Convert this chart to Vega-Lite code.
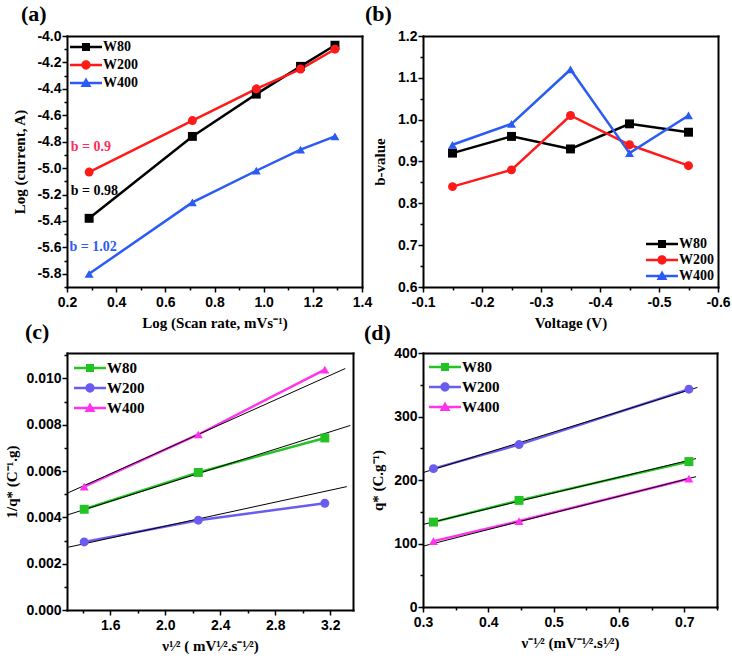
{
  "$schema": "https://vega.github.io/schema/vega-lite/v6.json",
  "padding": {"left": 4, "top": 3, "right": 2, "bottom": 2},
  "background": "white",
  "config": {
    "view": {"stroke": null},
    "axis": {"labelFont": "Liberation Sans", "labelFontWeight": "bold", "labelFontSize": 14, "labelColor": "black",
      "titleFont": "Liberation Serif", "titleFontWeight": "bold", "titleFontSize": 15, "titleColor": "black",
      "domain": false, "domainColor": "black", "domainWidth": 2, "domainCap": "square",
      "grid": false, "tickColor": "black", "tickWidth": 1.5, "tickSize": 5, "labelOverlap": false, "labelFlush": false},
    "axisX": {"titlePadding": 6, "labelPadding": 3},
    "axisY": {"titlePadding": 8, "labelPadding": 1},
    "legend": {"padding": 0, "rowPadding": 3, "symbolSize": 256, "symbolStrokeWidth": 0, "symbolOpacity": 1,
      "labelFont": "Liberation Serif", "labelFontWeight": "bold", "labelFontSize": 14, "labelColor": "black", "labelOffset": 17},
    "title": {"font": "Liberation Serif", "fontSize": 22, "fontWeight": "bold", "anchor": "start", "frame": "group", "baseline": "alphabetic", "color": "black"}
  },
  "datasets": {
    "a": [
      {"s": "W80", "x": 0.29, "y": -5.38}, {"s": "W80", "x": 0.71, "y": -4.76}, {"s": "W80", "x": 0.97, "y": -4.44}, {"s": "W80", "x": 1.15, "y": -4.23}, {"s": "W80", "x": 1.29, "y": -4.07},
      {"s": "W200", "x": 0.29, "y": -5.03}, {"s": "W200", "x": 0.71, "y": -4.64}, {"s": "W200", "x": 0.97, "y": -4.40}, {"s": "W200", "x": 1.15, "y": -4.25}, {"s": "W200", "x": 1.29, "y": -4.10},
      {"s": "W400", "x": 0.29, "y": -5.80}, {"s": "W400", "x": 0.71, "y": -5.26}, {"s": "W400", "x": 0.97, "y": -5.02}, {"s": "W400", "x": 1.15, "y": -4.86}, {"s": "W400", "x": 1.29, "y": -4.76}
    ],
    "anno": [
      {"s": "W200", "x": 0.215, "y": -4.84, "t": "b = 0.9"},
      {"s": "W80", "x": 0.215, "y": -5.17, "t": "b = 0.98"},
      {"s": "W400", "x": 0.21, "y": -5.60, "t": "b = 1.02"}
    ],
    "b": [
      {"s": "W80", "x": -0.15, "y": 0.92}, {"s": "W80", "x": -0.25, "y": 0.96}, {"s": "W80", "x": -0.35, "y": 0.93}, {"s": "W80", "x": -0.45, "y": 0.99}, {"s": "W80", "x": -0.55, "y": 0.97},
      {"s": "W200", "x": -0.15, "y": 0.84}, {"s": "W200", "x": -0.25, "y": 0.88}, {"s": "W200", "x": -0.35, "y": 1.01}, {"s": "W200", "x": -0.45, "y": 0.94}, {"s": "W200", "x": -0.55, "y": 0.89},
      {"s": "W400", "x": -0.15, "y": 0.94}, {"s": "W400", "x": -0.25, "y": 0.99}, {"s": "W400", "x": -0.35, "y": 1.12}, {"s": "W400", "x": -0.45, "y": 0.92}, {"s": "W400", "x": -0.55, "y": 1.01}
    ],
    "c": [
      {"s": "W80", "x": 1.41, "y": 0.00435}, {"s": "W80", "x": 2.24, "y": 0.00594}, {"s": "W80", "x": 3.16, "y": 0.00743},
      {"s": "W200", "x": 1.41, "y": 0.00294}, {"s": "W200", "x": 2.24, "y": 0.00388}, {"s": "W200", "x": 3.16, "y": 0.00461},
      {"s": "W400", "x": 1.41, "y": 0.00533}, {"s": "W400", "x": 2.24, "y": 0.00758}, {"s": "W400", "x": 3.16, "y": 0.01038}
    ],
    "cfit": [
      {"f": "W80", "x": 1.285, "y": 0.0041}, {"f": "W80", "x": 3.345, "y": 0.00797},
      {"f": "W200", "x": 1.285, "y": 0.0027}, {"f": "W200", "x": 3.32, "y": 0.00533},
      {"f": "W400", "x": 1.285, "y": 0.00504}, {"f": "W400", "x": 3.309, "y": 0.01043}
    ],
    "d": [
      {"s": "W80", "x": 0.316, "y": 133.7}, {"s": "W80", "x": 0.447, "y": 167.9}, {"s": "W80", "x": 0.707, "y": 229},
      {"s": "W200", "x": 0.316, "y": 217.9}, {"s": "W200", "x": 0.447, "y": 255.8}, {"s": "W200", "x": 0.707, "y": 343},
      {"s": "W400", "x": 0.316, "y": 103.7}, {"s": "W400", "x": 0.447, "y": 135.3}, {"s": "W400", "x": 0.707, "y": 202}
    ],
    "dfit": [
      {"f": "W80", "x": 0.3, "y": 130}, {"f": "W80", "x": 0.718, "y": 233.7},
      {"f": "W200", "x": 0.3, "y": 211.6}, {"f": "W200", "x": 0.72, "y": 345.8},
      {"f": "W400", "x": 0.3, "y": 95.8}, {"f": "W400", "x": 0.718, "y": 205.3}
    ]
  },
  "resolve": {"scale": {"color": "independent", "stroke": "independent", "fill": "independent", "shape": "independent", "x": "independent", "y": "independent"}, "legend": {"color": "independent"}},
  "columns": 2,
  "spacing": {"row": 66, "column": 61},
  "bounds": "flush",
  "align": "each",
  "concat": [
    {
      "width": 295, "height": 251,
      "title": {"text": "(a)", "dx": -46, "offset": 3},
      "resolve": {"axis": {"x": "independent", "y": "independent"}},
      "layer": [
        {"data": {"name": "a"}, "mark": {"type": "line", "strokeWidth": 2.5},
          "encoding": {
            "x": {"field": "x", "type": "quantitative", "scale": {"domain": [0.2, 1.4], "nice": false, "zero": false},
              "axis": {"title": "Log (Scan rate, mVs⁻¹)", "domain": true, "values": [0.2, 0.4, 0.6, 0.8, 1.0, 1.2, 1.4], "labelExpr": "format(datum.value, '.1f')"}},
            "y": {"field": "y", "type": "quantitative", "scale": {"domain": [-5.9, -4.0], "nice": false, "zero": false},
              "axis": {"title": "Log (current, A)", "domain": true, "titlePadding": 9, "values": [-5.8, -5.6, -5.4, -5.2, -5.0, -4.8, -4.6, -4.4, -4.2, -4.0],
                "labelExpr": "'-' + format(abs(datum.value), '.1f')"}},
            "stroke": {"field": "s", "type": "nominal", "scale": {"range": ["#ff1a1a", "#2b5bf5", "#000000"]}, "legend": null}
          }},
        {"data": {"name": "a"}, "mark": {"type": "point", "filled": true, "opacity": 1, "strokeWidth": 0, "size": 80},
          "encoding": {
            "x": {"field": "x", "type": "quantitative", "axis": {"orient": "bottom", "values": [0.3, 0.5, 0.7, 0.9, 1.1, 1.3], "labels": false, "title": null, "tickSize": 3}},
            "y": {"field": "y", "type": "quantitative", "axis": {"orient": "left", "values": [-5.9, -5.7, -5.5, -5.3, -5.1, -4.9, -4.7, -4.5, -4.3, -4.1], "labels": false, "title": null, "tickSize": 3}},
            "color": {"field": "s", "type": "nominal", "scale": {"domain": ["W80", "W200", "W400"], "range": ["#000000", "#ff1a1a", "#2b5bf5"]},
              "legend": {"title": null, "orient": "top-left", "offset": 3,
                "encode": {"symbols": {"update": {"shape": {"signal": "datum.value === 'W80' ? 'M -1 -0.15 L 3 -0.15 L 3 0.15 L -1 0.15 Z M 0.5 -0.5 L 1.5 -0.5 L 1.5 0.5 L 0.5 0.5 Z' : datum.value === 'W200' ? 'M -1 -0.15 L 3 -0.15 L 3 0.15 L -1 0.15 Z M 0.42 0 A 0.58 0.58 0 1 1 1.58 0 A 0.58 0.58 0 1 1 0.42 0 Z' : 'M -1 -0.15 L 3 -0.15 L 3 0.15 L -1 0.15 Z M 1 -0.68 L 1.68 0.5 L 0.32 0.5 Z'"}}}}}},
            "shape": {"field": "s", "type": "nominal", "scale": {"range": ["circle", "triangle-up", "square"]}, "legend": null}
          }},
        {"data": {"name": "anno"}, "mark": {"type": "text", "align": "left", "baseline": "middle", "font": "Liberation Serif", "fontWeight": "bold", "fontSize": 14},
          "encoding": {
            "x": {"field": "x", "type": "quantitative", "axis": {"orient": "top", "domain": true, "ticks": false, "labels": false, "title": null}},
            "y": {"field": "y", "type": "quantitative", "axis": {"orient": "right", "domain": true, "ticks": false, "labels": false, "title": null}},
            "text": {"field": "t"},
            "fill": {"field": "s", "type": "nominal", "scale": {"range": ["#ff2a5a", "#2b5bf5", "#000000"]}, "legend": null}
          }}
      ]
    },
    {
      "width": 295, "height": 251,
      "title": {"text": "(b)", "dx": -58, "offset": 3},
      "data": {"name": "b"},
      "resolve": {"axis": {"x": "independent", "y": "independent"}},
      "layer": [
        {"mark": {"type": "line", "strokeWidth": 2.5},
          "encoding": {
            "x": {"field": "x", "type": "quantitative", "scale": {"domain": [-0.6, -0.1], "reverse": true, "nice": false, "zero": false},
              "axis": {"title": "Voltage (V)", "domain": true, "values": [-0.1, -0.2, -0.3, -0.4, -0.5, -0.6], "labelExpr": "'-' + format(abs(datum.value), '.1f')"}},
            "y": {"field": "y", "type": "quantitative", "scale": {"domain": [0.6, 1.2], "nice": false, "zero": false},
              "axis": {"title": "b-value", "domain": true, "titlePadding": 10, "values": [0.6, 0.7, 0.8, 0.9, 1.0, 1.1, 1.2], "labelExpr": "format(datum.value, '.1f')"}},
            "stroke": {"field": "s", "type": "nominal", "scale": {"range": ["#ff1a1a", "#2b5bf5", "#000000"]}, "legend": null}
          }},
        {"mark": {"type": "point", "filled": true, "opacity": 0},
          "encoding": {
            "x": {"field": "x", "type": "quantitative", "axis": {"orient": "top", "domain": true, "ticks": false, "labels": false, "title": null}},
            "y": {"field": "y", "type": "quantitative", "axis": {"orient": "right", "domain": true, "ticks": false, "labels": false, "title": null}}
          }},
        {"mark": {"type": "point", "filled": true, "opacity": 1, "strokeWidth": 0, "size": 80},
          "encoding": {
            "x": {"field": "x", "type": "quantitative", "axis": {"orient": "bottom", "values": [-0.15, -0.25, -0.35, -0.45, -0.55], "labels": false, "title": null, "tickSize": 3}},
            "y": {"field": "y", "type": "quantitative", "axis": {"orient": "left", "values": [0.65, 0.75, 0.85, 0.95, 1.05, 1.15], "labels": false, "title": null, "tickSize": 3}},
            "color": {"field": "s", "type": "nominal", "scale": {"domain": ["W80", "W200", "W400"], "range": ["#000000", "#ff1a1a", "#2b5bf5"]},
              "legend": {"title": null, "orient": "bottom-right", "offset": 4, "rowPadding": 1,
                "encode": {"symbols": {"update": {"shape": {"signal": "datum.value === 'W80' ? 'M -1 -0.15 L 3 -0.15 L 3 0.15 L -1 0.15 Z M 0.5 -0.5 L 1.5 -0.5 L 1.5 0.5 L 0.5 0.5 Z' : datum.value === 'W200' ? 'M -1 -0.15 L 3 -0.15 L 3 0.15 L -1 0.15 Z M 0.42 0 A 0.58 0.58 0 1 1 1.58 0 A 0.58 0.58 0 1 1 0.42 0 Z' : 'M -1 -0.15 L 3 -0.15 L 3 0.15 L -1 0.15 Z M 1 -0.68 L 1.68 0.5 L 0.32 0.5 Z'"}}}}}},
            "shape": {"field": "s", "type": "nominal", "scale": {"range": ["circle", "triangle-up", "square"]}, "legend": null}
          }}
      ]
    },
    {
      "width": 286, "height": 257,
      "title": {"text": "(c)", "dx": -42, "offset": 9},
      "resolve": {"axis": {"x": "independent", "y": "independent"}},
      "layer": [
        {"data": {"name": "c"}, "mark": {"type": "line", "strokeWidth": 2.5},
          "encoding": {
            "x": {"field": "x", "type": "quantitative", "scale": {"domain": [1.285, 3.365], "nice": false, "zero": false},
              "axis": {"title": "ν¹⁄² ( mV¹⁄².s⁻¹⁄²)", "domain": true, "values": [1.6, 2.0, 2.4, 2.8, 3.2], "labelExpr": "format(datum.value, '.1f')"}},
            "y": {"field": "y", "type": "quantitative", "scale": {"domain": [0, 0.0111], "nice": false, "zero": false},
              "axis": {"title": "1/q* (C⁻¹.g)", "domain": true, "titlePadding": 6, "values": [0, 0.002, 0.004, 0.006, 0.008, 0.010], "labelExpr": "format(datum.value, '.3f')"}},
            "stroke": {"field": "s", "type": "nominal", "scale": {"range": ["#6a5cf0", "#ff33ee", "#22c322"]}, "legend": null}
          }},
        {"data": {"name": "cfit"}, "mark": {"type": "line", "strokeWidth": 1, "color": "black", "clip": true},
          "encoding": {
            "x": {"field": "x", "type": "quantitative", "axis": {"orient": "top", "domain": true, "ticks": false, "labels": false, "title": null}},
            "y": {"field": "y", "type": "quantitative", "axis": {"orient": "right", "domain": true, "ticks": false, "labels": false, "title": null}},
            "detail": {"field": "f"}
          }},
        {"data": {"name": "c"}, "mark": {"type": "point", "filled": true, "opacity": 1, "strokeWidth": 0, "size": 80},
          "encoding": {
            "x": {"field": "x", "type": "quantitative", "axis": {"orient": "bottom", "values": [1.4, 1.8, 2.2, 2.6, 3.0], "labels": false, "title": null, "tickSize": 3}},
            "y": {"field": "y", "type": "quantitative", "axis": {"orient": "left", "values": [0.001, 0.003, 0.005, 0.007, 0.009, 0.011], "labels": false, "title": null, "tickSize": 3}},
            "color": {"field": "s", "type": "nominal", "scale": {"domain": ["W80", "W200", "W400"], "range": ["#22c322", "#6a5cf0", "#ff33ee"]},
              "legend": {"title": null, "orient": "top-left", "offset": 7, "rowPadding": 4, "labelFontSize": 15,
                "encode": {"symbols": {"update": {"shape": {"signal": "datum.value === 'W80' ? 'M -1 -0.15 L 3 -0.15 L 3 0.15 L -1 0.15 Z M 0.5 -0.5 L 1.5 -0.5 L 1.5 0.5 L 0.5 0.5 Z' : datum.value === 'W200' ? 'M -1 -0.15 L 3 -0.15 L 3 0.15 L -1 0.15 Z M 0.42 0 A 0.58 0.58 0 1 1 1.58 0 A 0.58 0.58 0 1 1 0.42 0 Z' : 'M -1 -0.15 L 3 -0.15 L 3 0.15 L -1 0.15 Z M 1 -0.68 L 1.68 0.5 L 0.32 0.5 Z'"}}}}}},
            "shape": {"field": "s", "type": "nominal", "scale": {"range": ["circle", "triangle-up", "square"]}, "legend": null}
          }}
      ]
    },
    {
      "width": 294, "height": 254,
      "title": {"text": "(d)", "dx": -59, "offset": 1},
      "resolve": {"axis": {"x": "independent", "y": "independent"}},
      "layer": [
        {"data": {"name": "d"}, "mark": {"type": "line", "strokeWidth": 2.5},
          "encoding": {
            "x": {"field": "x", "type": "quantitative", "scale": {"domain": [0.3, 0.75], "nice": false, "zero": false},
              "axis": {"title": "ν⁻¹⁄² (mV⁻¹⁄².s¹⁄²)", "domain": true, "values": [0.3, 0.4, 0.5, 0.6, 0.7], "labelExpr": "format(datum.value, '.1f')"}},
            "y": {"field": "y", "type": "quantitative", "scale": {"domain": [0, 400], "nice": false, "zero": false},
              "axis": {"title": "q* (C.g⁻¹)", "domain": true, "values": [0, 100, 200, 300, 400], "labelExpr": "format(datum.value, 'd')"}},
            "stroke": {"field": "s", "type": "nominal", "scale": {"range": ["#6a5cf0", "#ff33ee", "#22c322"]}, "legend": null}
          }},
        {"data": {"name": "dfit"}, "mark": {"type": "line", "strokeWidth": 1, "color": "black", "clip": true},
          "encoding": {
            "x": {"field": "x", "type": "quantitative", "axis": {"orient": "top", "domain": true, "ticks": false, "labels": false, "title": null}},
            "y": {"field": "y", "type": "quantitative", "axis": {"orient": "right", "domain": true, "ticks": false, "labels": false, "title": null}},
            "detail": {"field": "f"}
          }},
        {"data": {"name": "d"}, "mark": {"type": "point", "filled": true, "opacity": 1, "strokeWidth": 0, "size": 80},
          "encoding": {
            "x": {"field": "x", "type": "quantitative", "axis": {"orient": "bottom", "values": [0.35, 0.45, 0.55, 0.65, 0.75], "labels": false, "title": null, "tickSize": 3}},
            "y": {"field": "y", "type": "quantitative", "axis": {"orient": "left", "values": [50, 150, 250, 350], "labels": false, "title": null, "tickSize": 3}},
            "color": {"field": "s", "type": "nominal", "scale": {"domain": ["W80", "W200", "W400"], "range": ["#22c322", "#6a5cf0", "#ff33ee"]},
              "legend": {"title": null, "orient": "top-left", "offset": 6, "rowPadding": 4, "labelFontSize": 15,
                "encode": {"symbols": {"update": {"shape": {"signal": "datum.value === 'W80' ? 'M -1 -0.15 L 3 -0.15 L 3 0.15 L -1 0.15 Z M 0.5 -0.5 L 1.5 -0.5 L 1.5 0.5 L 0.5 0.5 Z' : datum.value === 'W200' ? 'M -1 -0.15 L 3 -0.15 L 3 0.15 L -1 0.15 Z M 0.42 0 A 0.58 0.58 0 1 1 1.58 0 A 0.58 0.58 0 1 1 0.42 0 Z' : 'M -1 -0.15 L 3 -0.15 L 3 0.15 L -1 0.15 Z M 1 -0.68 L 1.68 0.5 L 0.32 0.5 Z'"}}}}}},
            "shape": {"field": "s", "type": "nominal", "scale": {"range": ["circle", "triangle-up", "square"]}, "legend": null}
          }}
      ]
    }
  ]
}
